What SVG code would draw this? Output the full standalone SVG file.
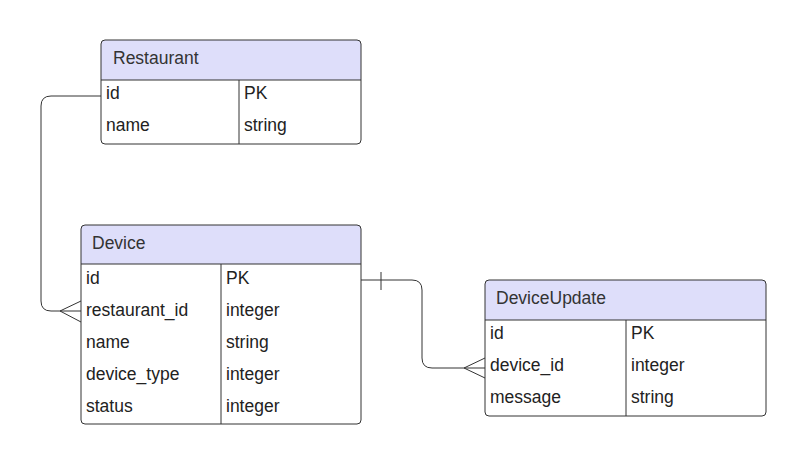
<svg xmlns="http://www.w3.org/2000/svg" width="805" height="465" viewBox="0 0 805 465">
<style>
.box{fill:none;stroke:#333333;stroke-width:1}
.hdr{fill:#dedefa}
.ln{stroke:#333333;stroke-width:1;fill:none}
.t{font-family:"Liberation Sans",Arial,sans-serif;font-size:17.5px;fill:#222222}
.h{font-family:"Liberation Sans",Arial,sans-serif;font-size:17.5px;fill:#333333}
</style>
<rect width="805" height="465" fill="#ffffff"/>
<g id="connectors" class="ln">
<path d="M101,96 H51 Q41,96 41,106 V301 Q41,311 51,311 H81"/>
<path d="M60,311 L81,301 M60,311 L81,322"/>
<path d="M361,280 H412 Q422,280 422,290 V358 Q422,368 432,368 H485"/>
<path d="M381,272 V290"/>
<path d="M464,368 L485,358 M464,368 L485,378"/>
</g>
<g id="Restaurant">
<path class="hdr" d="M101,80 V44 Q101,40 105,40 H357 Q361,40 361,44 V80 Z"/>
<rect class="box" x="101" y="40" width="260" height="104" rx="4"/>
<path class="ln" d="M101,80 H361 M239,80 V144"/>
<text class="h" x="113" y="64">Restaurant</text>
<text class="t" x="106" y="99">id</text>
<text class="t" x="244" y="99">PK</text>
<text class="t" x="106" y="131">name</text>
<text class="t" x="244" y="131">string</text>
</g>
<g id="Device">
<path class="hdr" d="M81,264 V229 Q81,225 85,225 H357 Q361,225 361,229 V264 Z"/>
<rect class="box" x="81" y="225" width="280" height="199" rx="4"/>
<path class="ln" d="M81,264 H361 M221,264 V424"/>
<text class="h" x="92" y="249">Device</text>
<text class="t" x="86" y="284">id</text>
<text class="t" x="226" y="284">PK</text>
<text class="t" x="86" y="316">restaurant_id</text>
<text class="t" x="226" y="316">integer</text>
<text class="t" x="86" y="348">name</text>
<text class="t" x="226" y="348">string</text>
<text class="t" x="86" y="380">device_type</text>
<text class="t" x="226" y="380">integer</text>
<text class="t" x="86" y="412">status</text>
<text class="t" x="226" y="412">integer</text>
</g>
<g id="DeviceUpdate">
<path class="hdr" d="M485,320 V284 Q485,280 489,280 H762 Q766,280 766,284 V320 Z"/>
<rect class="box" x="485" y="280" width="281" height="136" rx="4"/>
<path class="ln" d="M485,320 H766 M626,320 V416"/>
<text class="h" x="496" y="304">DeviceUpdate</text>
<text class="t" x="490" y="339">id</text>
<text class="t" x="631" y="339">PK</text>
<text class="t" x="490" y="371">device_id</text>
<text class="t" x="631" y="371">integer</text>
<text class="t" x="490" y="403">message</text>
<text class="t" x="631" y="403">string</text>
</g>
</svg>
